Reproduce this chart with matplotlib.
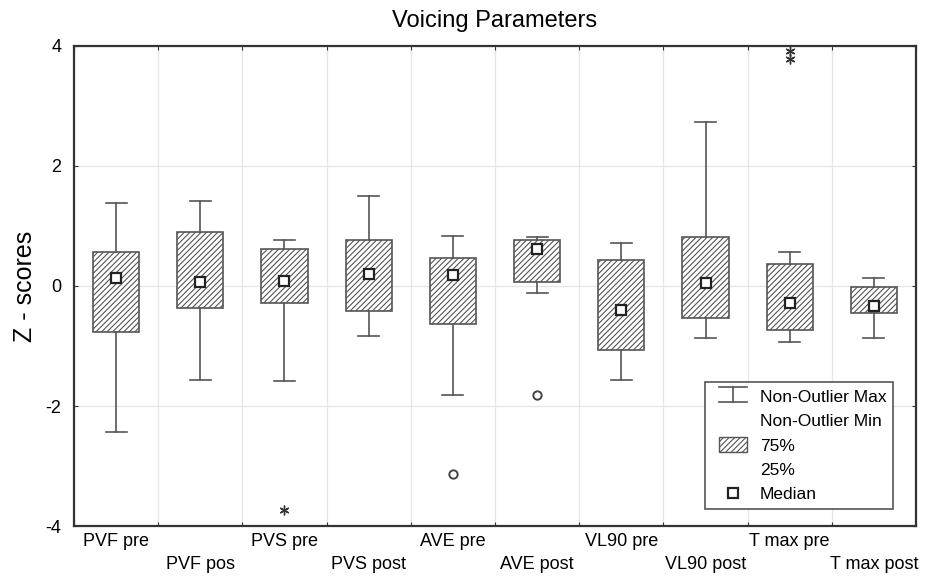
import matplotlib.pyplot as plt
from matplotlib.lines import Line2D
from matplotlib.patches import Patch, Rectangle
from matplotlib.legend_handler import HandlerBase

plt.rcParams['font.family'] = ['Liberation Sans', 'DejaVu Sans']
plt.rcParams['hatch.linewidth'] = 0.8
plt.rcParams['axes.unicode_minus'] = False

# data
labels = ["PVF pre", "PVF pos", "PVS pre", "PVS post", "AVE pre",
          "AVE post", "VL90 pre", "VL90 post", "T max pre", "T max post"]
whis_hi = [1.39, 1.41, 0.76, 1.50, 0.83, 0.81, 0.71, 2.74, 0.57, 0.14]
q3 = [0.57, 0.90, 0.62, 0.77, 0.47, 0.76, 0.44, 0.82, 0.37, -0.02]
medians = [0.13, 0.06, 0.08, 0.20, 0.18, 0.61, -0.40, 0.05, -0.28, -0.34]
q1 = [-0.77, -0.36, -0.28, -0.42, -0.64, 0.07, -1.07, -0.53, -0.74, -0.45]
whis_lo = [-2.44, -1.56, -1.58, -0.83, -1.81, -0.12, -1.57, -0.86, -0.94, -0.86]

# outliers (position index, value)
star_idx = [2, 8, 8]
star_val = [-3.74, 3.92, 3.79]
circ_idx = [4, 5]
circ_val = [-3.13, -1.81]

legend_labels = ["Non-Outlier Max", "Non-Outlier Min", "75%", "25%", "Median"]

box_col = "#555555"

fig = plt.figure(figsize=(9.35, 5.79), dpi=100)
ax = fig.add_axes([0.0791, 0.0915, 0.9006, 0.8291])

pos = [i + 0.5 for i in range(len(labels))]
stats = []
for i in range(len(labels)):
    stats.append(dict(med=medians[i], q1=q1[i], q3=q3[i],
                      whislo=whis_lo[i], whishi=whis_hi[i], fliers=[]))

ax.bxp(stats, positions=pos, widths=0.55, capwidths=0.25, patch_artist=True,
       showfliers=False,
       boxprops=dict(facecolor="white", edgecolor=box_col, hatch="//////", linewidth=1.2),
       whiskerprops=dict(color=box_col, linewidth=1.2),
       capprops=dict(color=box_col, linewidth=1.2),
       medianprops=dict(linewidth=0))

ax.plot(pos, medians, linestyle="none", marker="s", markersize=7,
        markerfacecolor="white", markeredgecolor="#222222", markeredgewidth=1.6, zorder=5)
ax.plot([pos[i] for i in star_idx], star_val, linestyle="none", marker=(6, 2, 0),
        markersize=7, color="#333333", markeredgewidth=1.0, zorder=5)
ax.plot([pos[i] for i in circ_idx], circ_val, linestyle="none", marker="o",
        markersize=6, markerfacecolor="white", markeredgecolor="#444444",
        markeredgewidth=1.4, zorder=5)

ax.set_xlim(0, 10)
ax.set_ylim(-4, 4)
ax.set_yticks([-4, -2, 0, 2, 4])
ax.set_xticks(range(0, 11))
ax.set_xticklabels([])
ax.set_xticks(pos, minor=True)
ax.set_xticklabels([l if i % 2 == 0 else "\n" + l for i, l in enumerate(labels)],
                   minor=True, fontsize=13, linespacing=1.45)
ax.tick_params(axis="x", which="minor", length=0, pad=5)
ax.tick_params(axis="both", which="major", direction="in", length=3,
               top=True, right=True, color="#333333")
ax.tick_params(axis="y", labelsize=13, pad=9)
ax.grid(True, which="major", color="#e6e6e6", linewidth=0.9)
ax.set_axisbelow(True)
for s in ax.spines.values():
    s.set_linewidth(1.6)
    s.set_color("#333333")

ax.set_title("Voicing Parameters", fontsize=17, pad=14)
ax.set_ylabel("Z - scores", fontsize=18, labelpad=6)

SHIFT = 5  # extra left room inside the legend frame, pixels


class WhiskerHandler(HandlerBase):
    def create_artists(self, legend, orig, xd, yd, w, h, fontsize, trans):
        x0, y0 = -xd + SHIFT, -yd + 1.5
        x1 = -xd + w
        top = y0 + h
        lines = [
            Line2D([x0, x1], [top, top]),
            Line2D([x0, x1], [y0, y0]),
            Line2D([(x0 + x1) / 2] * 2, [y0, top]),
        ]
        for ln in lines:
            ln.set_color(box_col)
            ln.set_linewidth(1.2)
            ln.set_transform(trans)
        return lines


class BoxHandler(HandlerBase):
    def create_artists(self, legend, orig, xd, yd, w, h, fontsize, trans):
        r = Rectangle((-xd + SHIFT, -yd), w - SHIFT, h, facecolor="white",
                      edgecolor=box_col, hatch="//////", linewidth=1.0, transform=trans)
        return [r]


class MedianHandler(HandlerBase):
    def create_artists(self, legend, orig, xd, yd, w, h, fontsize, trans):
        m = Line2D([-xd + SHIFT + (w - SHIFT) / 2], [-yd + h / 2], linestyle="none",
                   marker="s", markersize=7, markerfacecolor="white",
                   markeredgecolor="#222222", markeredgewidth=1.6, transform=trans)
        return [m]


h_whisk = Line2D([], [])
h_blank1 = Line2D([], [], linestyle="none")
h_blank2 = Line2D([], [], linestyle="none")
h_box = Patch()
h_med = Line2D([], [])
leg = ax.legend([h_whisk, h_blank1, h_box, h_blank2, h_med], legend_labels,
                handler_map={h_whisk: WhiskerHandler(), h_box: BoxHandler(),
                             h_med: MedianHandler()},
                loc="lower right", bbox_to_anchor=(0.973, 0.035), borderaxespad=0,
                fontsize=12.5, fancybox=False, framealpha=1, edgecolor="#555555",
                handlelength=2.0, handleheight=0.95, handletextpad=0.75,
                labelspacing=0.45, borderpad=0.4)
leg.get_frame().set_linewidth(1.2)

fig.savefig("out.png", dpi=100)
